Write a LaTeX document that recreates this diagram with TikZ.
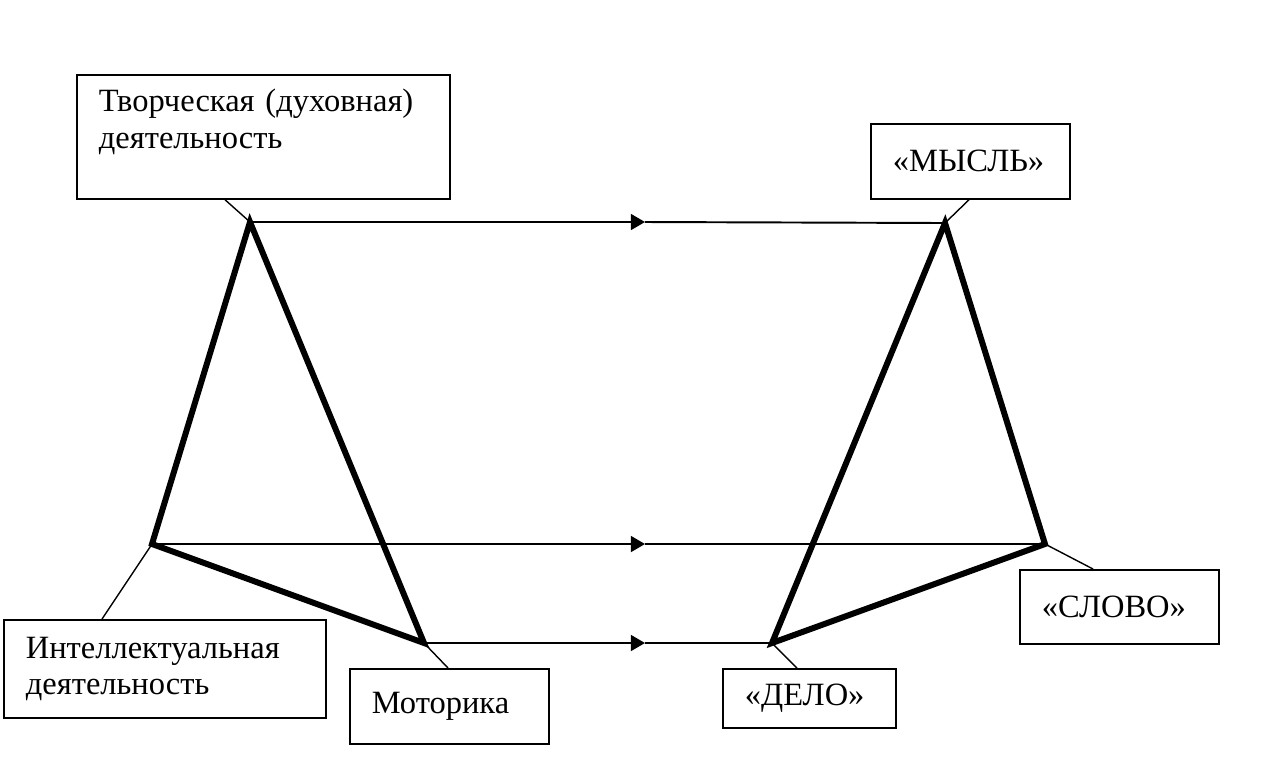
\documentclass[tikz,border=0pt]{standalone}
\usepackage{fontspec}
\setmainfont{Liberation Serif}
\usetikzlibrary{arrows.meta,calc}

\tikzset{
	box/.style={draw, line width=1pt, rectangle, anchor=north west, align=left,
		inner xsep=0.44cm, inner ysep=0pt, font=\fontsize{18.5}{20.8}\selectfont},
	side/.style={line width=3.4pt},
	link/.style={line width=1.1pt},
	lead/.style={line width=0.8pt},
	tip/.style={-{Triangle[length=8pt,width=9pt]}},
}

\begin{document}
\begin{tikzpicture}[x=0.02cm,y=-0.02cm]
	\useasboundingbox (0,0) rectangle (1288,769);

	\coordinate (a) at (250,222);
	\coordinate (b) at (152,544);
	\coordinate (c) at (424,643);
	\coordinate (m) at (945,223);
	\coordinate (s) at (1045,544);
	\coordinate (d) at (772,643);
	\coordinate (t) at (645,0);

	\draw[side] (a) -- (b) -- (c) -- cycle;
	\draw[side] (m) -- (s) -- (d) -- cycle;

	\draw[link,tip] (a) -- (a -| t);
	\draw[link] (a -| t) -- (m);
	\draw[link,tip] (b) -- (b -| t);
	\draw[link] (b -| t) -- (s);
	\draw[link,tip] (c) -- (c -| t);
	\draw[link] (c -| t) -- (d);

	\node[box, text width=6.58cm, minimum height=2.48cm] (tvor) at (76,74) {Творческая (духовная)\\деятельность\\\mbox{}};
	\node[box, text width=3.10cm, minimum height=1.50cm] (mysl) at (870,123) {«МЫСЛЬ»};
	\node[box, text width=5.56cm, minimum height=1.96cm] (intel) at (3,619) {Интеллектуальная\\деятельность};
	\node[box, text width=3.10cm, minimum height=1.50cm] (motor) at (349,668) {Моторика};
	\node[box, text width=2.58cm, minimum height=1.18cm] (delo) at (722,668) {«ДЕЛО»};
	\node[box, text width=3.10cm, minimum height=1.48cm] (slovo) at (1019,569) {«СЛОВО»};

	\draw[lead] ($(tvor.south west)+(149,0)$) -- (a);
	\draw[lead] ($(mysl.south west)+(99,0)$) -- (m);
	\draw[lead] ($(intel.north west)+(99,0)$) -- (b);
	\draw[lead] ($(motor.north west)+(99,0)$) -- (c);
	\draw[lead] ($(delo.north west)+(75,0)$) -- (d);
	\draw[lead] ($(slovo.north west)+(74,0)$) -- (s);

\end{tikzpicture}
\end{document}
